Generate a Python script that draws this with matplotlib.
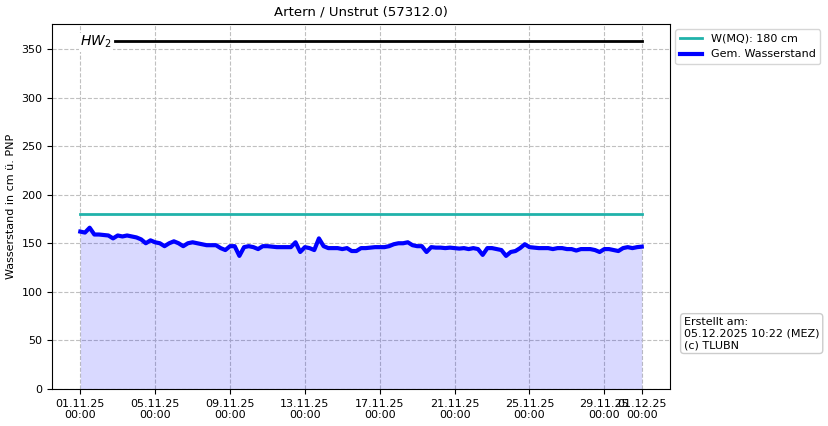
import numpy as np
import pandas as pd
import matplotlib
matplotlib.use("Agg")
import matplotlib.pyplot as plt
import matplotlib.dates as mdates

# Messwerte (6-stuendlich, cm ue. PNP) 01.11.25 00:00 bis 01.12.25 00:00
wasserstand = [
    162, 161, 166, 159, 159, 158.5, 158, 155, 158, 157, 158, 157,
    156, 154, 150, 153, 151, 150, 147, 150, 152, 150, 147, 150,
    151, 150, 149, 148, 148, 148, 145, 143, 147, 147, 137, 146,
    147, 146, 144, 147, 147, 146.5, 146, 146, 146, 146, 151, 141,
    146, 145, 143, 155, 147, 145, 145, 145, 144, 145, 142, 142,
    145, 145, 145.5, 146, 146, 146, 147, 149, 150, 150, 151, 148,
    147, 147, 141, 146, 145.5, 145.5, 145, 145.5, 145, 144.5, 145, 144,
    145, 144, 138, 145, 145, 144, 143, 137, 141, 142, 145, 149,
    146, 145.5, 145, 145, 145, 144, 145, 145, 144, 144, 142.5, 144,
    144, 144, 143, 141, 144, 144, 143, 142, 145, 146, 145, 146,
    146.5,
]
zeit = pd.date_range("2025-11-01 00:00", periods=len(wasserstand), freq="6h")

mq_wert = 180
hw2_wert = 358
tick_daten = list(pd.date_range("2025-11-01", "2025-11-29", freq="4D")) + [pd.Timestamp("2025-12-01")]

plt.rcParams["font.size"] = 8

fig = plt.figure(figsize=(8.29, 4.26), dpi=100)
ax = fig.add_axes([0.063, 0.087, 0.745, 0.857])

ax.fill_between(zeit, 0, wasserstand, color="blue", alpha=0.15, linewidth=0)
ax.plot([zeit[0], zeit[-1]], [mq_wert, mq_wert], color="lightseagreen", linewidth=2,
        label="W(MQ): %d cm" % mq_wert)
ax.plot(zeit, wasserstand, color="blue", linewidth=3, label="Gem. Wasserstand")
ax.plot([zeit[0] + pd.Timedelta(hours=45), zeit[-1]], [hw2_wert, hw2_wert], color="black", linewidth=2)
ax.text(zeit[0], hw2_wert - 1, r"$HW_2$", fontsize=10, va="center", ha="left",
        bbox=dict(facecolor="white", edgecolor="none", pad=1))

ax.set_ylim(bottom=0)
ax.set_xticks(tick_daten)
ax.xaxis.set_major_formatter(mdates.DateFormatter("%d.%m.%y\n%H:%M"))
ax.grid(True, linestyle="--", color="#c0c0c0")
ax.set_axisbelow(True)
ax.set_title("Artern / Unstrut (57312.0)", fontsize=9.5)
ax.set_ylabel("Wasserstand in cm ü. PNP")
ax.legend(loc="upper left", bbox_to_anchor=(1.0, 1.0), fontsize=8)

fig.text(0.825, 0.178, "Erstellt am:\n05.12.2025 10:22 (MEZ)\n(c) TLUBN", fontsize=8,
         va="bottom", ha="left",
         bbox=dict(boxstyle="round", facecolor="white", edgecolor="#cccccc"))

fig.savefig("out.png", dpi=100)
